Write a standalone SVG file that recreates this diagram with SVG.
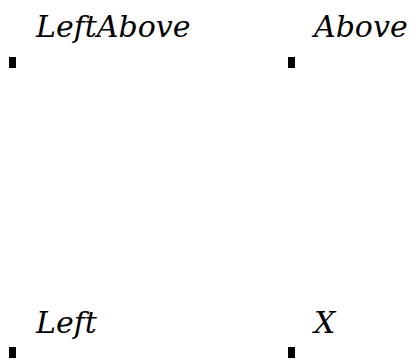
<svg xmlns="http://www.w3.org/2000/svg" width="415" height="359" viewBox="0 0 415 359">
<style>
.pt{fill:#000}
.lbl{font-family:"DejaVu Serif",serif;font-style:italic;font-size:30px;fill:#000}
</style>
<rect width="415" height="359" fill="#fff"/>
<g id="leftabove"><rect class="pt" x="9" y="57" width="7" height="11"/><text class="lbl" x="36" y="37">LeftAbove</text></g>
<g id="above"><rect class="pt" x="288" y="57" width="7" height="11"/><text class="lbl" x="314" y="37">Above</text></g>
<g id="left"><rect class="pt" x="9" y="347" width="7" height="11"/><text class="lbl" x="36" y="333">Left</text></g>
<g id="x"><rect class="pt" x="288" y="347" width="7" height="11"/><text class="lbl" x="314" y="333">X</text></g>
<g id="connectors"/>
</svg>
